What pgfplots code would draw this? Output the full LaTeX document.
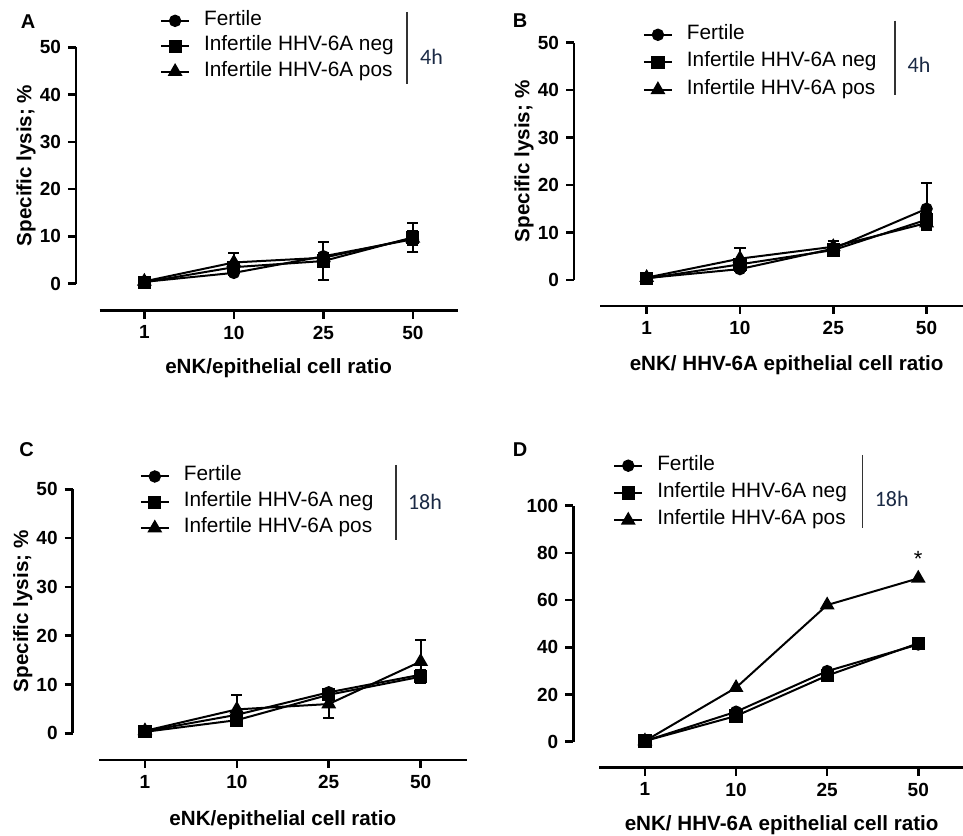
\documentclass[border=0pt]{standalone}
\usepackage{pgfplots}
\pgfplotsset{compat=1.18}
\usepackage{fontspec}
\setmainfont{Liberation Sans}
\newfontfamily\calibri{Carlito}
\definecolor{hcol}{HTML}{1B2A45}

% 1 px of the reference = 0.5pt
\pgfplotsset{
  base/.style={scale only axis, clip=false,
    /pgf/number format/assume math mode=true,
    axis line style={line width=1.3pt, -},
    tick style={line width=1.3pt, black},
    major tick length=4pt, tick align=outside,
    ticklabel style={font=\bfseries\fontsize{9.5}{11}\selectfont}},
  xax/.style={base, xmin=-0.5, xmax=3.5,
    axis x line*=bottom, axis y line=none, ytick=\empty,
    xtick={0,1,2,3}, xticklabels={1,10,25,50},
    every axis x label/.style={at={(axis description cs:0.5,#1)}, anchor=center,
      font=\bfseries\fontsize{10.3}{12}\selectfont},
    legend cell align=left,
    legend style={draw=none, fill=none, inner sep=0pt, outer sep=0pt,
      row sep=0pt, column sep=7pt, anchor=west,
      font=\fontsize{10.4}{12}\selectfont},
    legend image code/.code={\draw[mark repeat=2, mark phase=2, ##1]
      plot coordinates {(0pt,0pt) (7pt,0pt) (14pt,0pt)};}},
  yax/.style={base, width=5pt, xmin=0, xmax=1,
    axis x line=none, axis y line*=left, xtick=\empty,
    every axis y label/.style={at={(axis description cs:-5.0,0.5)}, rotate=90, anchor=center,
      font=\bfseries\fontsize{10.3}{12}\selectfont}},
  s1/.style={black, line width=1pt, mark=*, mark size=2.6pt, mark options={solid}},
  s2/.style={black, line width=1pt, mark=square*, mark size=2.8pt, mark options={solid}},
  s3/.style={black, line width=1pt, mark=triangle*, mark size=3.3pt, mark options={solid}},
  eb/.style={error bars/.cd, y dir=both, y explicit,
    error bar style={line width=1pt},
    error mark options={rotate=90, mark size=2.8pt, line width=1pt}},
}

\begin{document}
\begin{tikzpicture}
\useasboundingbox (0,0) rectangle (481.5pt,417.5pt);

% ---------------- A ----------------
\begin{axis}[yax, at={(38pt,275.65pt)}, anchor=south west, height=118.2pt,
  ymin=0, ymax=50, ytick={0,10,...,50}, ylabel={Specific lysis; \%}]
\end{axis}
\begin{axis}[xax=-0.2175, at={(49.8pt,262.15pt)}, anchor=south west,
  width=179pt, height=131.7pt, ymin=-5.70, ymax=50,
  xlabel={eNK/epithelial cell ratio},
  legend style={at={(0.169,1.004)}, nodes={inner sep=0pt, text height=8.6pt, text depth=4.1pt}}]
\addplot[s1, eb] coordinates {(0,0.4) +- (0,0.3) (1,2.3) +- (0,0.5) (2,5.8) +- (0,0.8) (3,9.4) +- (0,1.0)};
\addlegendentry{Fertile}
\addplot[s2, eb] coordinates {(0,0.3) +- (0,0.2) (1,3.5) +- (0,0.8) (2,4.8) +- (0,4.1) (3,9.8) +- (0,3.0)};
\addlegendentry{Infertile HHV-6A neg}
\addplot[s3, eb] coordinates {(0,0.5) +- (0,0.2) (1,4.5) +- (0,2.0) (2,5.5) +- (0,1.0) (3,9.6) +- (0,1.5)};
\addlegendentry{Infertile HHV-6A pos}
\end{axis}
\draw[line width=0.6pt, black!80] (203.5pt,411.5pt) -- (203.5pt,375.5pt);
\node[text=hcol, font=\calibri\fontsize{11}{13}\selectfont] at (215.75pt,389pt) {4h};
\node[font=\bfseries\fontsize{10}{12}\selectfont] at (14pt,406.5pt) {A};

% ---------------- B ----------------
\begin{axis}[yax, at={(287pt,277.5pt)}, anchor=south west, height=118.65pt,
  ymin=0, ymax=50, ytick={0,10,...,50}, ylabel={Specific lysis; \%}]
\end{axis}
\begin{axis}[xax=-0.224, at={(300pt,264.5pt)}, anchor=south west,
  width=186.6pt, height=131.65pt, ymin=-5.48, ymax=50,
  xlabel={eNK/ HHV-6A epithelial cell ratio},
  legend style={at={(0.115,0.9256)}, nodes={inner sep=0pt, text height=9.1pt, text depth=4.65pt}}]
\addplot[s1, eb] coordinates {(0,0.4) +- (0,0.2) (1,2.3) +- (0,0.4) (2,6.6) +- (0,0.8) (3,15.0) += (0,5.4) -= (0,4.0)};
\addlegendentry{Fertile}
\addplot[s2, eb] coordinates {(0,0.3) +- (0,0.2) (1,3.3) +- (0,0.8) (2,6.3) +- (0,0.5) (3,12.7) +- (0,1.5)};
\addlegendentry{Infertile HHV-6A neg}
\addplot[s3, eb] coordinates {(0,0.5) +- (0,0.2) (1,4.5) +- (0,2.2) (2,7.0) +- (0,1.3) (3,12.0) +- (0,1.5)};
\addlegendentry{Infertile HHV-6A pos}
\end{axis}
\draw[line width=0.6pt, black!80] (447.5pt,407.15pt) -- (447.5pt,370pt);
\node[text=hcol, font=\calibri\fontsize{11}{13}\selectfont] at (459.5pt,385pt) {4h};
\node[font=\bfseries\fontsize{10}{12}\selectfont] at (260pt,407pt) {B};

% ---------------- C ----------------
\begin{axis}[yax, at={(36.35pt,50.85pt)}, anchor=south west, height=122pt,
  ymin=0, ymax=50, ytick={0,10,...,50}, ylabel={Specific lysis; \%}]
\end{axis}
\begin{axis}[xax=-0.2216, at={(49.5pt,37.5pt)}, anchor=south west,
  width=183.8pt, height=135.35pt, ymin=-5.47, ymax=50,
  xlabel={eNK/epithelial cell ratio},
  legend style={at={(0.111,0.952)}, nodes={inner sep=0pt, text height=8.7pt, text depth=4.2pt}}]
\addplot[s1, eb] coordinates {(0,0.4) +- (0,0.2) (1,3.8) +- (0,0.8) (2,8.4) +- (0,0.6) (3,12.0) +- (0,1.0)};
\addlegendentry{Fertile}
\addplot[s2, eb] coordinates {(0,0.3) +- (0,0.2) (1,2.7) +- (0,0.5) (2,7.9) +- (0,0.6) (3,11.6) +- (0,1.0)};
\addlegendentry{Infertile HHV-6A neg}
\addplot[s3, eb] coordinates {(0,0.5) +- (0,0.2) (1,4.9) +- (0,3.0) (2,6.0) +- (0,2.9) (3,14.7) +- (0,4.4)};
\addlegendentry{Infertile HHV-6A pos}
\end{axis}
\draw[line width=0.6pt, black!80] (198pt,185pt) -- (198pt,147.5pt);
\node[text=hcol, font=\calibri\fontsize{11}{13}\selectfont] at (212.5pt,166.65pt) {18h};
\node[font=\bfseries\fontsize{10}{12}\selectfont] at (13.35pt,192.85pt) {C};

% ---------------- D ----------------
\begin{axis}[yax, at={(286.65pt,46.65pt)}, anchor=south west, height=118pt,
  ymin=0, ymax=100, ytick={0,20,...,100}]
\end{axis}
\begin{axis}[xax=-0.2187, at={(299.7pt,33.65pt)}, anchor=south west,
  width=182.2pt, height=131pt, ymin=-11.02, ymax=100,
  xlabel={eNK/ HHV-6A epithelial cell ratio},
  legend style={at={(0.038,1.0485)}, nodes={inner sep=0pt, text height=9.05pt, text depth=4.6pt}}]
\addplot[s1] coordinates {(0,0.3) (1,12.7) (2,29.9) (3,41.2)};
\addlegendentry{Fertile}
\addplot[s2] coordinates {(0,0.3) (1,10.9) (2,28.0) (3,41.7)};
\addlegendentry{Infertile HHV-6A neg}
\addplot[s3] coordinates {(0,0.3) (1,22.9) (2,57.9) (3,69.2)};
\addlegendentry{Infertile HHV-6A pos}
\node[font=\fontsize{11}{13}\selectfont] at (axis cs:3,77.5) {*};
\end{axis}
\draw[line width=0.6pt, black!80] (431.35pt,190pt) -- (431.35pt,153.35pt);
\node[text=hcol, font=\calibri\fontsize{11}{13}\selectfont] at (445.85pt,167.85pt) {18h};
\node[font=\bfseries\fontsize{10}{12}\selectfont] at (260pt,192.85pt) {D};

\end{tikzpicture}
\end{document}
